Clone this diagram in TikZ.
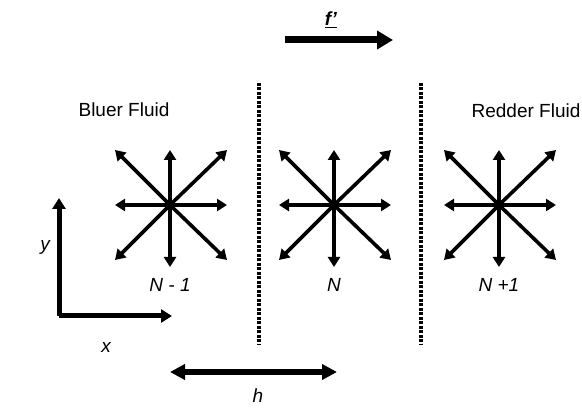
\documentclass[tikz,border=0pt]{standalone}
\usepackage{fontspec}
\setmainfont{Liberation Sans}
\usetikzlibrary{arrows.meta}
\tikzset{
  lbl/.style={font=\fontsize{19}{22}\selectfont, inner sep=0pt},
  ilbl/.style={font=\fontsize{19}{22}\selectfont\itshape, inner sep=0pt},
  stararrow/.style={line width=4.2pt, -{Triangle[width=12pt,length=10pt]}},
  diagarrow/.style={line width=3.6pt, -{Triangle[width=12pt,length=10pt]}},
  axisarrow/.style={line width=5pt, -{Triangle[width=13pt,length=11pt]}},
  bigarrow/.style={line width=7pt, -{Triangle[width=18pt,length=16pt]}},
  harrow/.style={line width=6pt, {Triangle[width=15pt,length=15pt]}-{Triangle[width=15pt,length=15pt]}},
  divider/.style={line width=4pt, dash pattern=on 3pt off 1.5pt},
}
\begin{document}
\begin{tikzpicture}[x=1pt,y=-1pt]
\useasboundingbox (0,0) rectangle (582,414);
% top force arrow
\coordinate (fs) at (285,40);
\coordinate (fe) at (393,40);
\draw[bigarrow] (fs) -- (fe);
\node[lbl] (flab) at (331,20) {\underline{\textbf{\textit{f'}}}};
% labels
\node[lbl] (bluer) at (124,110) {Bluer Fluid};
\node[lbl] (redder) at (526,111) {Redder Fluid};
% dividers
\coordinate (d1t) at (259,83);
\coordinate (d1b) at (259,345);
\coordinate (d2t) at (421,83);
\coordinate (d2b) at (421,345);
\draw[divider] (d1t) -- (d1b);
\draw[divider] (d2t) -- (d2b);
% stars
\foreach \n/\cx in {s1/170, s2/334, s3/499}{
  \coordinate (\n) at (\cx,205);
  \foreach \dx/\dy in {0/-55, 0/62, -55/0, 57/0}{
    \draw[stararrow] (\n) -- ++(\dx,\dy);
  }
  \foreach \dx/\dy in {-55/-55, 57/-55, -55/55, 57/55}{
    \draw[diagarrow] (\n) -- ++(\dx,\dy);
  }
}
\node[ilbl] (l1) at (170,285) {N - 1};
\node[ilbl] (l2) at (334,285) {N};
\node[ilbl] (l3) at (499,285) {N +1};
% axes
\coordinate (o) at (59,316);
\coordinate (ya) at (59,198);
\coordinate (xa) at (172,316);
\draw[axisarrow] (o) -- (ya);
\draw[axisarrow] (o) -- (xa);
\node[ilbl] (ylab) at (45,247) {y};
\node[ilbl] (xlab) at (106,347) {x};
% h arrow
\coordinate (hs) at (170,372);
\coordinate (he) at (337,372);
\draw[harrow] (hs) -- (he);
\node[ilbl] (hlab) at (258,396) {h};
\end{tikzpicture}
\end{document}
